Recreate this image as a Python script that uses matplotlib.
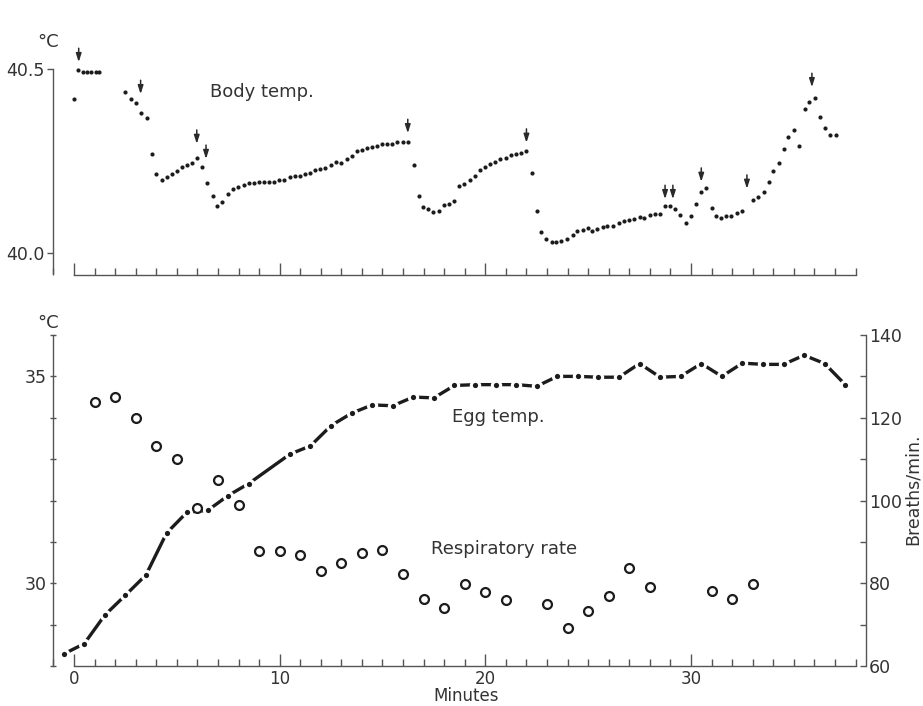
import numpy as np
import matplotlib
matplotlib.use("Agg")
from matplotlib import pyplot as plt
from matplotlib.ticker import MultipleLocator, FixedLocator, NullFormatter

# body temperature, sampled about every 15 s (minutes, deg C)
body_time = [0.0, 0.21, 0.42, 0.64, 0.85, 1.06, 1.24,
             2.48, 2.76, 3.0, 3.24, 3.54, 3.78, 3.97, 4.27, 4.51, 4.75, 4.99,
             5.27, 5.51, 5.75, 5.98, 6.21, 6.48, 6.78, 6.94, 7.21, 7.5, 7.75,
             7.99, 8.27, 8.51, 8.75, 9.0, 9.24, 9.48, 9.73, 9.99, 10.23, 10.51,
             10.75, 10.99, 11.24, 11.48, 11.72, 11.96, 12.21, 12.48, 12.73,
             12.99, 13.26, 13.51, 13.75, 13.99, 14.24, 14.48, 14.72, 14.97,
             15.21, 15.48, 15.73, 15.99, 16.26, 16.55, 16.8, 16.99, 17.23,
             17.48, 17.77, 18.01, 18.25, 18.5, 18.74, 18.98, 19.26, 19.52,
             19.76, 20.0, 20.23, 20.48, 20.72, 21.0, 21.25, 21.5, 21.74, 22.0,
             22.28, 22.53, 22.71, 22.96, 23.23, 23.44, 23.69, 23.96, 24.24,
             24.48, 24.74, 24.99, 25.21, 25.45, 25.7, 25.94, 26.2, 26.48,
             26.75, 27.01, 27.25, 27.5, 27.74, 28.02, 28.26, 28.5, 28.74,
             28.99, 29.23, 29.47, 29.75, 29.99, 30.24, 30.48, 30.74, 31.02,
             31.23, 31.47, 31.71, 31.96, 32.23, 32.5, 33.01, 33.28, 33.53,
             33.77, 34.01, 34.26, 34.5, 34.74, 35.02, 35.26, 35.52, 35.76,
             36.01, 36.25, 36.53, 36.77, 37.03]
body_temp = [40.419, 40.497, 40.493, 40.491, 40.492, 40.492, 40.492,
             40.438, 40.42, 40.407, 40.38, 40.366, 40.27, 40.215, 40.2, 40.208,
             40.215, 40.224, 40.235, 40.24, 40.246, 40.259, 40.233, 40.19,
             40.156, 40.127, 40.14, 40.16, 40.175, 40.181, 40.185, 40.19,
             40.192, 40.193, 40.194, 40.194, 40.194, 40.199, 40.2, 40.208,
             40.21, 40.21, 40.214, 40.219, 40.226, 40.228, 40.232, 40.239,
             40.249, 40.246, 40.255, 40.264, 40.278, 40.28, 40.285, 40.289,
             40.292, 40.298, 40.296, 40.298, 40.301, 40.303, 40.303, 40.24,
             40.156, 40.125, 40.12, 40.113, 40.115, 40.13, 40.133, 40.143,
             40.183, 40.187, 40.199, 40.21, 40.226, 40.235, 40.242, 40.249,
             40.255, 40.26, 40.267, 40.27, 40.271, 40.278, 40.217, 40.116,
             40.059, 40.038, 40.03, 40.03, 40.032, 40.039, 40.05, 40.061,
             40.063, 40.068, 40.061, 40.065, 40.07, 40.074, 40.075, 40.082,
             40.088, 40.09, 40.093, 40.098, 40.097, 40.104, 40.107, 40.106,
             40.128, 40.128, 40.119, 40.104, 40.083, 40.101, 40.133, 40.167,
             40.176, 40.124, 40.1, 40.097, 40.1, 40.102, 40.109, 40.116,
             40.145, 40.154, 40.166, 40.193, 40.223, 40.244, 40.283, 40.316,
             40.335, 40.292, 40.391, 40.411, 40.422, 40.371, 40.339, 40.321,
             40.321]

# arrows marking events on the body temperature trace (time, tip level)
arrow_time = [0.23, 3.24, 5.97, 6.42, 16.23, 22.0, 28.74, 29.12, 30.5, 32.72, 35.88]
arrow_tip = [40.519, 40.432, 40.297, 40.256, 40.326, 40.30, 40.147, 40.147,
             40.194, 40.175, 40.451]

# egg temperature (deg C)
egg_time = [-0.5, 0.5, 1.5, 2.5, 3.5, 4.5, 5.5, 6.5, 7.5, 8.5, 10.5, 11.5,
            12.5, 13.5, 14.5, 15.5, 16.5, 17.5, 18.5, 19.5, 20.5, 21.5, 22.5,
            23.5, 24.5, 25.5, 26.5, 27.5, 28.5, 29.5, 30.5, 31.5, 32.5, 33.5,
            34.5, 35.5, 36.5, 37.5]
egg_temp = [28.29, 28.54, 29.23, 29.71, 30.2, 31.21, 31.72, 31.76, 32.12,
            32.41, 33.12, 33.32, 33.81, 34.11, 34.31, 34.29, 34.5, 34.48,
            34.78, 34.8, 34.8, 34.8, 34.76, 35.0, 35.0, 34.98, 34.98, 35.31,
            34.98, 35.0, 35.31, 35.0, 35.32, 35.29, 35.29, 35.51, 35.31, 34.8]

# respiratory rate (breaths/min)
resp_time = [1, 2, 3, 4, 5, 6, 7, 8, 9, 10, 11, 12, 13, 14, 15, 16, 17, 18,
             19, 20, 21, 23, 24, 25, 26, 27, 28, 31, 32, 33]
resp_rate = [123.9, 124.9, 119.9, 113.1, 110.0, 98.3, 105.0, 99.0, 87.7, 87.7,
             86.9, 83.0, 84.9, 87.2, 88.0, 82.2, 76.2, 73.9, 79.8, 78.0, 76.0,
             74.9, 69.2, 73.2, 76.8, 83.8, 79.1, 78.1, 76.2, 79.8]

plt.rcParams['font.family'] = ['DejaVu Sans']
ink = '#1c1c1c'
axis_col = '#555555'
text_col = '#333333'
tick_fs = 12.5
label_fs = 13

W, H = 923, 706
fig = plt.figure(figsize=(W / 100, H / 100), dpi=100)
fig.patch.set_facecolor('white')

x_lo, x_hi = -1.02, 38.51
ax_left = 53 / W
ax_width = (866 - 53) / W


def style_time_axis(ax, labels):
    ax.set_xlim(x_lo, x_hi)
    ax.spines['bottom'].set_bounds(0, 38)
    ax.spines['top'].set_visible(False)
    ax.spines['right'].set_visible(False)
    for s in ('bottom', 'left'):
        ax.spines[s].set_color(axis_col)
        ax.spines[s].set_linewidth(1.0)
    ax.xaxis.set_major_locator(FixedLocator([0, 10, 20, 30]))
    ax.xaxis.set_minor_locator(MultipleLocator(1))
    ax.tick_params(axis='x', which='major', direction='in', length=9,
                   width=1, color=axis_col, labelsize=12,
                   labelcolor=text_col, pad=3)
    ax.tick_params(axis='x', which='minor', direction='in', length=5,
                   width=1, color=axis_col)
    if not labels:
        ax.xaxis.set_major_formatter(NullFormatter())


# ---- top panel: body temperature ----
ax1 = fig.add_axes([ax_left, 1 - 275 / H, ax_width, (275 - 40) / H])
style_time_axis(ax1, labels=False)
ax1.set_ylim(39.941, 40.579)
ax1.spines['left'].set_bounds(39.947, 40.5)
ax1.set_yticks([40.0, 40.5])
ax1.set_yticklabels(['40.0', '40.5'])
ax1.tick_params(axis='y', direction='out', length=4, width=1, color=axis_col,
                labelsize=tick_fs, labelcolor=text_col, pad=2)
ax1.plot(body_time, body_temp, 'o', color=ink, markersize=3.0, markeredgewidth=0,
         clip_on=False)
for t, tip in zip(arrow_time, arrow_tip):
    ax1.annotate('', xy=(t, tip), xytext=(0, 10), textcoords='offset points',
                 annotation_clip=False,
                 arrowprops=dict(arrowstyle='-|>,head_length=0.5,head_width=0.16',
                                 color='#2a2a2a', lw=1.1, shrinkA=0, shrinkB=0))
ax1.text(6.6, 40.438, 'Body temp.', fontsize=label_fs, color=text_col,
         ha='left', va='center')
fig.text(48 / W, 1 - 42 / H, '°C', fontsize=label_fs, color=text_col,
         ha='center', va='center')

# ---- bottom panel: egg temperature and respiratory rate ----
ax2 = fig.add_axes([ax_left, 1 - 666 / H, ax_width, (666 - 335) / H])
style_time_axis(ax2, labels=True)
ax2.set_ylim(28, 36)
ax2.spines['left'].set_bounds(28, 36)
ax2.yaxis.set_major_locator(FixedLocator([30, 35]))
ax2.yaxis.set_minor_locator(MultipleLocator(1))
ax2.tick_params(axis='y', which='major', direction='inout', length=5, width=1,
                color=axis_col, labelsize=tick_fs, labelcolor=text_col, pad=2)
ax2.tick_params(axis='y', which='minor', direction='inout', length=5, width=1,
                color=axis_col)
ax2.plot(egg_time, egg_temp, '-', color=ink, linewidth=2.4, solid_capstyle='butt',
         zorder=2, clip_on=False)
ax2.plot(egg_time, egg_temp, 'o', color=ink, markersize=6.0,
         markeredgecolor='white', markeredgewidth=2.2, zorder=3, clip_on=False)
ax2.text(18.37, 34.01, 'Egg temp.', fontsize=label_fs, color=text_col,
         ha='left', va='center')
ax2.text(17.36, 30.82, 'Respiratory rate', fontsize=label_fs, color=text_col,
         ha='left', va='center')

ax3 = ax2.twinx()
ax3.set_position(ax2.get_position())
ax3.set_ylim(60, 140)
for s in ('left', 'top', 'bottom'):
    ax3.spines[s].set_visible(False)
ax3.spines['right'].set_color(axis_col)
ax3.spines['right'].set_linewidth(1.0)
ax3.yaxis.set_major_locator(MultipleLocator(20))
ax3.yaxis.set_minor_locator(MultipleLocator(10))
ax3.tick_params(axis='y', which='major', direction='in', length=4, width=1,
                color=axis_col, labelsize=tick_fs, labelcolor=text_col, pad=2)
ax3.tick_params(axis='y', which='minor', direction='in', length=4, width=1,
                color=axis_col)
ax3.plot(resp_time, resp_rate, 'o', markerfacecolor='white', markeredgecolor=ink,
         markersize=6.4, markeredgewidth=1.6, clip_on=False)

fig.text(48 / W, 1 - 323 / H, '°C', fontsize=label_fs, color=text_col,
         ha='center', va='center')
fig.text(466 / W, 1 - 705 / H, 'Minutes', fontsize=12, color=text_col,
         ha='center', va='bottom')
fig.text(913 / W, 1 - 489 / H, 'Breaths/min.', fontsize=12.5, color=text_col,
         ha='center', va='center', rotation=90)

fig.savefig('out.png', dpi=100, facecolor='white')
